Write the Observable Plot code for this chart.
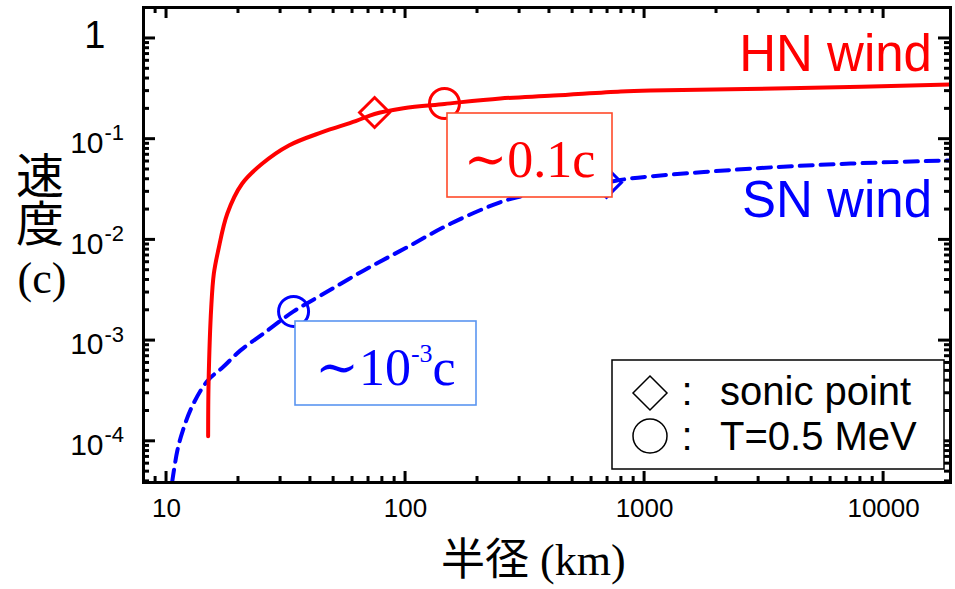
<!DOCTYPE html>
<html><head><meta charset="utf-8">
<script src="https://cdn.jsdelivr.net/npm/d3@7"></script>
<script src="https://cdn.jsdelivr.net/npm/@observablehq/plot@0.6"></script>
<style>
body{margin:0;background:#fff;}
#wrap{position:relative;width:955px;height:589px;overflow:hidden;background:#fff;}
</style></head><body><div id="wrap"></div>
<script>
// HN wind (solid red) : radius (km) vs velocity (c)
const hnRadius   = [14.93, 15.0, 15.38, 15.77, 16.45, 17.95, 20.7, 25.1, 32.5, 44.8, 61.8, 74.2, 98, 145.5, 249, 416, 795, 1059, 4500, 19050];
const hnVelocity = [1.12e-4, 4.0e-4, 2.13e-3, 4.6e-3, 7.85e-3, 0.0182, 0.0361, 0.057, 0.0866, 0.1174, 0.151, 0.178, 0.203, 0.224, 0.254, 0.271, 0.298, 0.305, 0.322, 0.349];
// SN wind (dashed blue)
const snRadius   = [10.55, 11.1, 11.7, 12.85, 14.85, 17.15, 20.4, 25.5, 34.0, 44.1, 66.9, 101.6, 154, 242, 293, 445, 693, 873, 2860, 7280, 19050];
const snVelocity = [3.9e-5, 8.1e-5, 1.28e-4, 2.27e-4, 4.0e-4, 5.4e-4, 8.0e-4, 1.18e-3, 1.95e-3, 2.8e-3, 4.97e-3, 8.47e-3, 0.01445, 0.0231, 0.0265, 0.032, 0.0372, 0.0407, 0.0512, 0.0573, 0.0615];
// markers: sonic point (diamond) and T=0.5 MeV (circle)
const markerWind     = ["HN", "HN", "SN", "SN"];
const markerKind     = ["sonic point", "T=0.5 MeV", "sonic point", "T=0.5 MeV"];
const markerRadius   = [74.2, 145.5, 693, 34.0];
const markerVelocity = [0.184, 0.226, 0.0372, 1.95e-3];

const xMajorTicks = [10, 100, 1000, 10000];
const xTickLabels = ["10", "100", "1000", "10000"];
const xMinorTicks = [9, 20, 30, 40, 50, 60, 70, 80, 90, 200, 300, 400, 500, 600, 700, 800, 900, 2000, 3000, 4000, 5000, 6000, 7000, 8000, 9000];
const yMajorTicks = [1, 0.1, 0.01, 0.001, 0.0001];
const yTickBase   = ["1", "10", "10", "10", "10"];
const yTickExp    = ["", "-1", "-2", "-3", "-4"];
const yMinorTicks = [4e-5, 5e-5, 6e-5, 7e-5, 8e-5, 9e-5, 2e-4, 3e-4, 4e-4, 5e-4, 6e-4, 7e-4, 8e-4, 9e-4, 2e-3, 3e-3, 4e-3, 5e-3, 6e-3, 7e-3, 8e-3, 9e-3, 0.02, 0.03, 0.04, 0.05, 0.06, 0.07, 0.08, 0.09, 0.2, 0.3, 0.4, 0.5, 0.6, 0.7, 0.8, 0.9];

const windColor = {HN: "#ff0000", SN: "#0000ff"};

const hn = hnRadius.map((r, i) => ({r, v: hnVelocity[i]}));
const sn = snRadius.map((r, i) => ({r, v: snVelocity[i]}));
const markers = markerRadius.map((r, i) => ({r, v: markerVelocity[i], wind: markerWind[i], kind: markerKind[i]}));

const sansFont = "'Liberation Sans', Arial, Helvetica, sans-serif";
const serifFont = "'Liberation Serif', 'DejaVu Serif', 'Times New Roman', serif";
const cjkFont = "'Noto Sans CJK JP', 'Noto Sans CJK SC', sans-serif";

const W = 955, H = 589, mL = 143, mR = 5, mT = 7, mB = 107;

const plot = Plot.plot({
  width: W, height: H,
  marginLeft: mL, marginRight: mR, marginTop: mT, marginBottom: mB,
  x: {type: "log", domain: [8.01, 19050]},
  y: {type: "log", domain: [3.9e-5, 2.03]},
  style: {fontFamily: sansFont, background: "white", color: "black"},
  marks: [
    Plot.line(sn, {x: "r", y: "v", stroke: windColor.SN, strokeWidth: 4, strokeDasharray: "13,8", curve: "catmull-rom", clip: true}),
    Plot.line(hn, {x: "r", y: "v", stroke: windColor.HN, strokeWidth: 4, curve: "catmull-rom", clip: true}),
    Plot.dot(markers.filter(d => d.kind === "sonic point"), {x: "r", y: "v", symbol: "diamond2", r: 13.5,
      stroke: d => windColor[d.wind], strokeWidth: 3, fill: "none"}),
    Plot.dot(markers.filter(d => d.kind !== "sonic point"), {x: "r", y: "v", symbol: "circle", r: 15,
      stroke: d => windColor[d.wind], strokeWidth: 3, fill: "none"}),
    // tick labels
    Plot.axisX({anchor: "bottom", ticks: xMajorTicks, tickSize: 0, tickPadding: 16, fontSize: 26,
      tickFormat: d => xTickLabels[xMajorTicks.indexOf(d)], label: null}),
    Plot.axisY({anchor: "left", ticks: [yMajorTicks[0]], tickSize: 0, tickPadding: 38, fontSize: 38, dy: -3,
      tickFormat: d => yTickBase[yMajorTicks.indexOf(d)], label: null}),
    Plot.axisY({anchor: "left", ticks: yMajorTicks.slice(1), tickSize: 0, tickPadding: 40, fontSize: 30, dy: 4,
      tickFormat: d => yTickBase[yMajorTicks.indexOf(d)], label: null}),
    Plot.axisY({anchor: "left", ticks: yMajorTicks.slice(1), tickSize: 0, tickPadding: 40, fontSize: 22, dy: -6, dx: 1,
      textAnchor: "start", tickFormat: d => yTickExp[yMajorTicks.indexOf(d)], label: null}),
    Plot.frame({strokeWidth: 3})
  ]
});

document.getElementById("wrap").appendChild(plot);

// ---------- inward tick marks on all four frame sides, placed with the plot's own scales ----------
const xs = plot.scale("x"), ys = plot.scale("y");
const sx = d3.scaleLog().domain(xs.domain).range(xs.range);
const sy = d3.scaleLog().domain(ys.domain).range(ys.range);
const svg = d3.select(plot);
const tg = svg.append("g").attr("class", "inner-ticks").attr("stroke", "#000").attr("stroke-width", 3).attr("fill", "none");
const x0 = mL, x1 = W - mR, y0 = mT, y1 = H - mB;
const addX = (ticks, len) => ticks.forEach(v => {
  const px = sx(v);
  tg.append("path").attr("d", `M${px},${y1}V${y1 - len}`);
  tg.append("path").attr("d", `M${px},${y0}V${y0 + len}`);
});
const addY = (ticks, len) => ticks.forEach(v => {
  const py = sy(v);
  tg.append("path").attr("d", `M${x0},${py}H${x0 + len}`);
  tg.append("path").attr("d", `M${x1},${py}H${x1 - len}`);
});
addX(xMajorTicks, 11); addX(xMinorTicks, 6);
addY(yMajorTicks, 12); addY(yMinorTicks, 6);

// ---------- annotations (layout overlay) ----------
const g = svg.append("g").attr("class", "annotations").attr("text-anchor", "start");

// series labels
g.append("text").attr("x", 932).attr("y", 71).attr("text-anchor", "end")
  .attr("font-family", sansFont).attr("font-size", 51).attr("fill", windColor.HN).text("HN wind");
g.append("text").attr("x", 932).attr("y", 217).attr("text-anchor", "end")
  .attr("font-family", sansFont).attr("font-size", 51).attr("fill", windColor.SN).text("SN wind");

// ~0.1c box
g.append("rect").attr("x", 447).attr("y", 113).attr("width", 165).attr("height", 84)
  .attr("fill", "white").attr("stroke", "#ff4a2a").attr("stroke-width", 1.6);
g.append("text").attr("x", 529.5).attr("y", 177).attr("text-anchor", "middle")
  .attr("font-family", serifFont).attr("font-size", 52).attr("fill", windColor.HN).text("\u223C0.1c");

// ~10^-3 c box
g.append("rect").attr("x", 295).attr("y", 321).attr("width", 181).attr("height", 84)
  .attr("fill", "white").attr("stroke", "#5a95f0").attr("stroke-width", 1.6);
const t2 = g.append("text").attr("x", 385.5).attr("y", 385).attr("text-anchor", "middle")
  .attr("font-family", serifFont).attr("font-size", 52).attr("fill", windColor.SN);
t2.append("tspan").text("\u223C10");
t2.append("tspan").attr("font-size", 26).attr("dy", -23).text("-3");
t2.append("tspan").attr("dy", 23).text("c");

// legend
g.append("rect").attr("x", 612).attr("y", 360).attr("width", 332).attr("height", 109)
  .attr("fill", "white").attr("stroke", "black").attr("stroke-width", 1.5);
g.append("path").attr("d", "M650,376L667,393L650,410L633,393Z").attr("fill", "none").attr("stroke", "black").attr("stroke-width", 1.5);
g.append("circle").attr("cx", 650).attr("cy", 436).attr("r", 17).attr("fill", "none").attr("stroke", "black").attr("stroke-width", 1.5);
const legendRows = [{y: 405, label: "sonic point"}, {y: 450, label: "T=0.5 MeV"}];
legendRows.forEach(row => {
  g.append("text").attr("x", 687).attr("y", row.y).attr("text-anchor", "middle")
    .attr("font-family", sansFont).attr("font-size", 40).text(":");
  g.append("text").attr("x", 720).attr("y", row.y).attr("text-anchor", "start")
    .attr("font-family", sansFont).attr("font-size", 40).text(row.label);
});

// y axis title (vertical stack)
g.append("text").attr("x", 40).attr("y", 151).attr("text-anchor", "start")
  .style("writing-mode", "vertical-rl")
  .attr("font-family", cjkFont).attr("font-size", 48).text("速度");
g.append("text").attr("x", 42).attr("y", 293).attr("text-anchor", "middle")
  .attr("font-family", serifFont).attr("font-size", 44).text("(c)");

// x axis title
const xt = g.append("text").attr("x", 441).attr("y", 575).attr("text-anchor", "start").attr("font-size", 44);
xt.append("tspan").attr("font-family", cjkFont).text("半径");
xt.append("tspan").attr("font-family", serifFont).text(" (km)");
</script></body></html>
